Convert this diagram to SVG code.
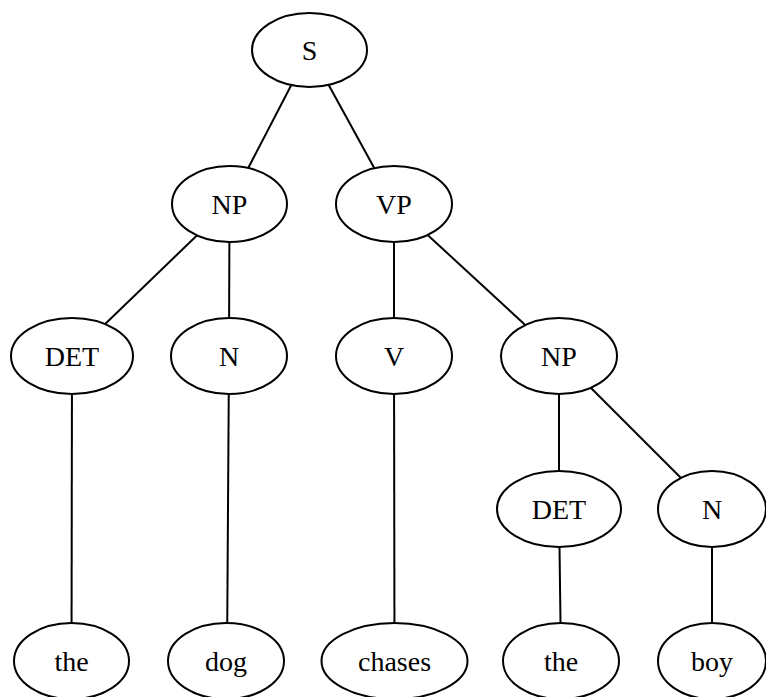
<svg xmlns="http://www.w3.org/2000/svg" width="766" height="697" viewBox="0 0 766 697">
<style>
.n ellipse{fill:#fff;stroke:#000;stroke-width:2}
.n text{font-family:"Liberation Serif","Times New Roman",serif;font-size:28px;text-anchor:middle;fill:#000}
#edges line{stroke:#000;stroke-width:2}
</style>
<rect width="766" height="697" fill="#fff"/>
<g id="edges">
<line x1="309.5" y1="50" x2="229.5" y2="204"/>
<line x1="309.5" y1="50" x2="394" y2="204"/>
<line x1="229.5" y1="204" x2="72" y2="356"/>
<line x1="229.5" y1="204" x2="229" y2="356"/>
<line x1="394" y1="204" x2="394" y2="356"/>
<line x1="394" y1="204" x2="559" y2="356"/>
<line x1="72" y1="356" x2="71.5" y2="661"/>
<line x1="229" y1="356" x2="227" y2="661"/>
<line x1="394" y1="356" x2="394.5" y2="661"/>
<line x1="559" y1="356" x2="559" y2="509"/>
<line x1="559" y1="356" x2="712" y2="509"/>
<line x1="559" y1="509" x2="561" y2="661"/>
<line x1="712" y1="509" x2="712" y2="661"/>
</g>
<g id="S" class="n"><ellipse cx="309.5" cy="50" rx="57.5" ry="37"/><text x="309.5" y="59.5">S</text></g>
<g id="NP1" class="n"><ellipse cx="229.5" cy="204" rx="57.5" ry="38"/><text x="229.5" y="213.5">NP</text></g>
<g id="VP" class="n"><ellipse cx="394" cy="204" rx="58" ry="38"/><text x="394" y="213.5">VP</text></g>
<g id="DET1" class="n"><ellipse cx="72" cy="356" rx="61" ry="38"/><text x="72" y="365.5">DET</text></g>
<g id="N1" class="n"><ellipse cx="229" cy="356" rx="58" ry="38"/><text x="229" y="365.5">N</text></g>
<g id="V" class="n"><ellipse cx="394" cy="356" rx="58" ry="38"/><text x="394" y="365.5">V</text></g>
<g id="NP2" class="n"><ellipse cx="559" cy="356" rx="58" ry="38"/><text x="559" y="365.5">NP</text></g>
<g id="DET2" class="n"><ellipse cx="559" cy="509" rx="62" ry="38"/><text x="559" y="518.5">DET</text></g>
<g id="N2" class="n"><ellipse cx="712" cy="509" rx="54" ry="38"/><text x="712" y="518.5">N</text></g>
<g id="the1" class="n"><ellipse cx="71.5" cy="661" rx="57.5" ry="38"/><text x="71.5" y="670.5">the</text></g>
<g id="dog" class="n"><ellipse cx="226" cy="661" rx="58" ry="38"/><text x="226" y="670.5">dog</text></g>
<g id="chases" class="n"><ellipse cx="394.5" cy="661" rx="73" ry="38"/><text x="394.5" y="670.5">chases</text></g>
<g id="the2" class="n"><ellipse cx="561" cy="661" rx="58" ry="38"/><text x="561" y="670.5">the</text></g>
<g id="boy" class="n"><ellipse cx="712" cy="661" rx="54" ry="38"/><text x="712" y="670.5">boy</text></g>
</svg>
